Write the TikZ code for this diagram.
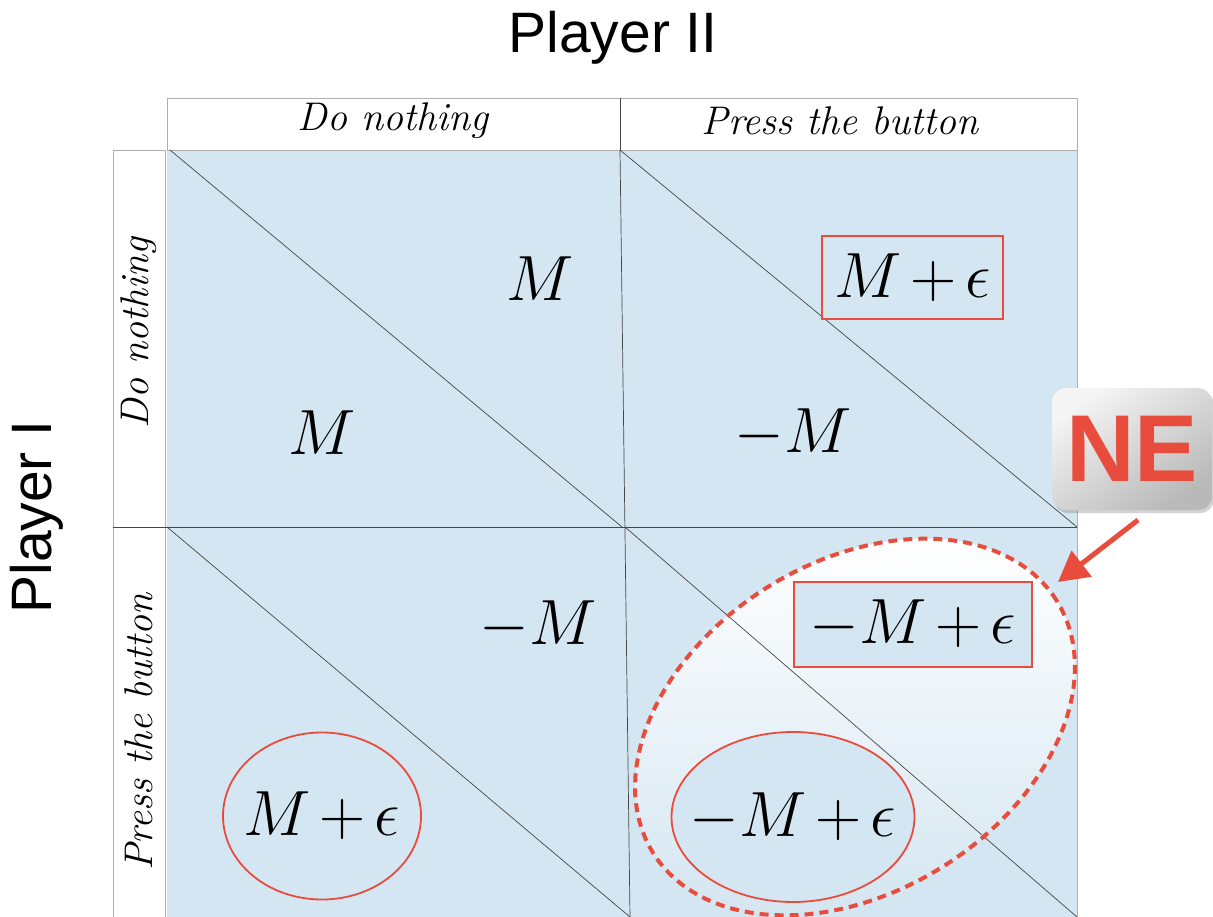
\documentclass[tikz,border=0pt]{standalone}
\usepackage{fontspec}
\usepackage{graphicx}
\newfontfamily\headsans{Liberation Sans}
\usetikzlibrary{shapes.geometric,shadows,arrows.meta}
\definecolor{cellblue}{RGB}{212,230,241}
\definecolor{nered}{RGB}{232,76,61}
\definecolor{gridline}{RGB}{70,70,70}
\definecolor{frame}{RGB}{175,175,175}
\newcommand\paymath[1]{\scalebox{2.57}{\Huge$\medmuskip=2.5mu #1$}}
\begin{document}
\begin{tikzpicture}[x=1pt,y=-1pt,
  player/.style={font=\headsans\fontsize{57}{60}\selectfont, inner sep=0pt},
  strat/.style={font=\fontsize{40}{44}\selectfont\itshape, inner sep=0pt},
  pay/.style={inner sep=0pt},
  rbox/.style={pay, draw=nered, line width=1.8pt, fill=cellblue, rectangle},
  rell/.style={draw=nered, line width=1.8pt, fill=cellblue, ellipse, inner sep=0pt},
  grid/.style={gridline, line width=0.7pt},
]
\useasboundingbox (0,0) rectangle (1213,917);
% cells
\fill[cellblue] (167,150) rectangle (1077,917);
\draw[frame, line width=0.8pt] (1077,150) -- (1077,917);
% headers
\draw[frame, fill=white, line width=0.8pt] (167,98) rectangle (1077,150);
\draw[frame, fill=white, line width=0.8pt] (113,150) rectangle (165,917);
\draw[grid] (620,98) -- (620,150);
% dashed NE region fill
\shade[top color=white, bottom color=cellblue]
  plot[domain=0:360, samples=121] ({855+238*cos(\x)*cos(32)-165*sin(\x)*sin(32)}, {727-(238*cos(\x)*sin(32)+165*sin(\x)*cos(32))}) -- cycle;
% grid lines
\draw[grid] (113,527) -- (1077,527);
\draw[grid] (620,150) -- (630,917);
\draw[grid] (170,150) -- (622,527);
\draw[grid] (620,150) -- (1077,527);
\draw[grid] (167,527) -- (630,917);
\draw[grid] (625,527) -- (1077,917);
\draw[nered, line width=4pt, dash pattern=on 9pt off 6pt]
  plot[domain=0:360, samples=121] ({855+238*cos(\x)*cos(32)-165*sin(\x)*sin(32)}, {727-(238*cos(\x)*sin(32)+165*sin(\x)*cos(32))}) -- cycle;
% titles
\node[player] (p2) at (613,38) {Player II};
\node[player, rotate=90] (p1) at (37,517) {Player I};
\node[strat] (c1) at (393,121) {Do nothing};
\node[strat] (c2) at (840,121) {Press the button};
\node[strat, rotate=90] (r1) at (139,333) {Do nothing};
\node[strat, rotate=90] (r2) at (139,732) {Press the button};
% payoffs
\node[pay] (a1) at (540,279) {\paymath{M}};
\node[pay] (a2) at (322,433) {\paymath{M}};
\node[rbox, minimum width=181pt, minimum height=83pt] (b1) at (912.5,277.5) {\paymath{M+\epsilon}};
\node[pay] (b2) at (793,433) {\paymath{-M}};
\node[pay] (c1p) at (538,625) {\paymath{-M}};
\node[rell, minimum width=198pt, minimum height=167pt] (c2e) at (322,816) {};
\node[pay] (c2p) at (c2e.center) {\paymath{M+\epsilon}};
\node[rbox, minimum width=238pt, minimum height=85pt] (d1) at (913,624.5) {\paymath{-M+\epsilon}};
\node[rell, minimum width=243pt, minimum height=170pt] (d2e) at (793,817) {};
\node[pay] (d2) at (d2e.center) {\paymath{-M+\epsilon}};
% NE label
\node[rectangle, rounded corners=14pt, minimum width=160pt, minimum height=122pt,
  top color=gray!8, bottom color=gray!55, shading angle=35,
  drop shadow={opacity=0.35, shadow xshift=2pt, shadow yshift=-3pt},
  font=\headsans\bfseries\fontsize{95}{100}\selectfont, text=nered, inner sep=0pt] (ne) at (1132,449) {NE};
\coordinate (tail) at (1138,520);
\coordinate (tip) at (1058,582);
\draw[nered, line width=5pt, -{Triangle[length=30pt,width=32pt]}] (tail) -- (tip);
\end{tikzpicture}
\end{document}
